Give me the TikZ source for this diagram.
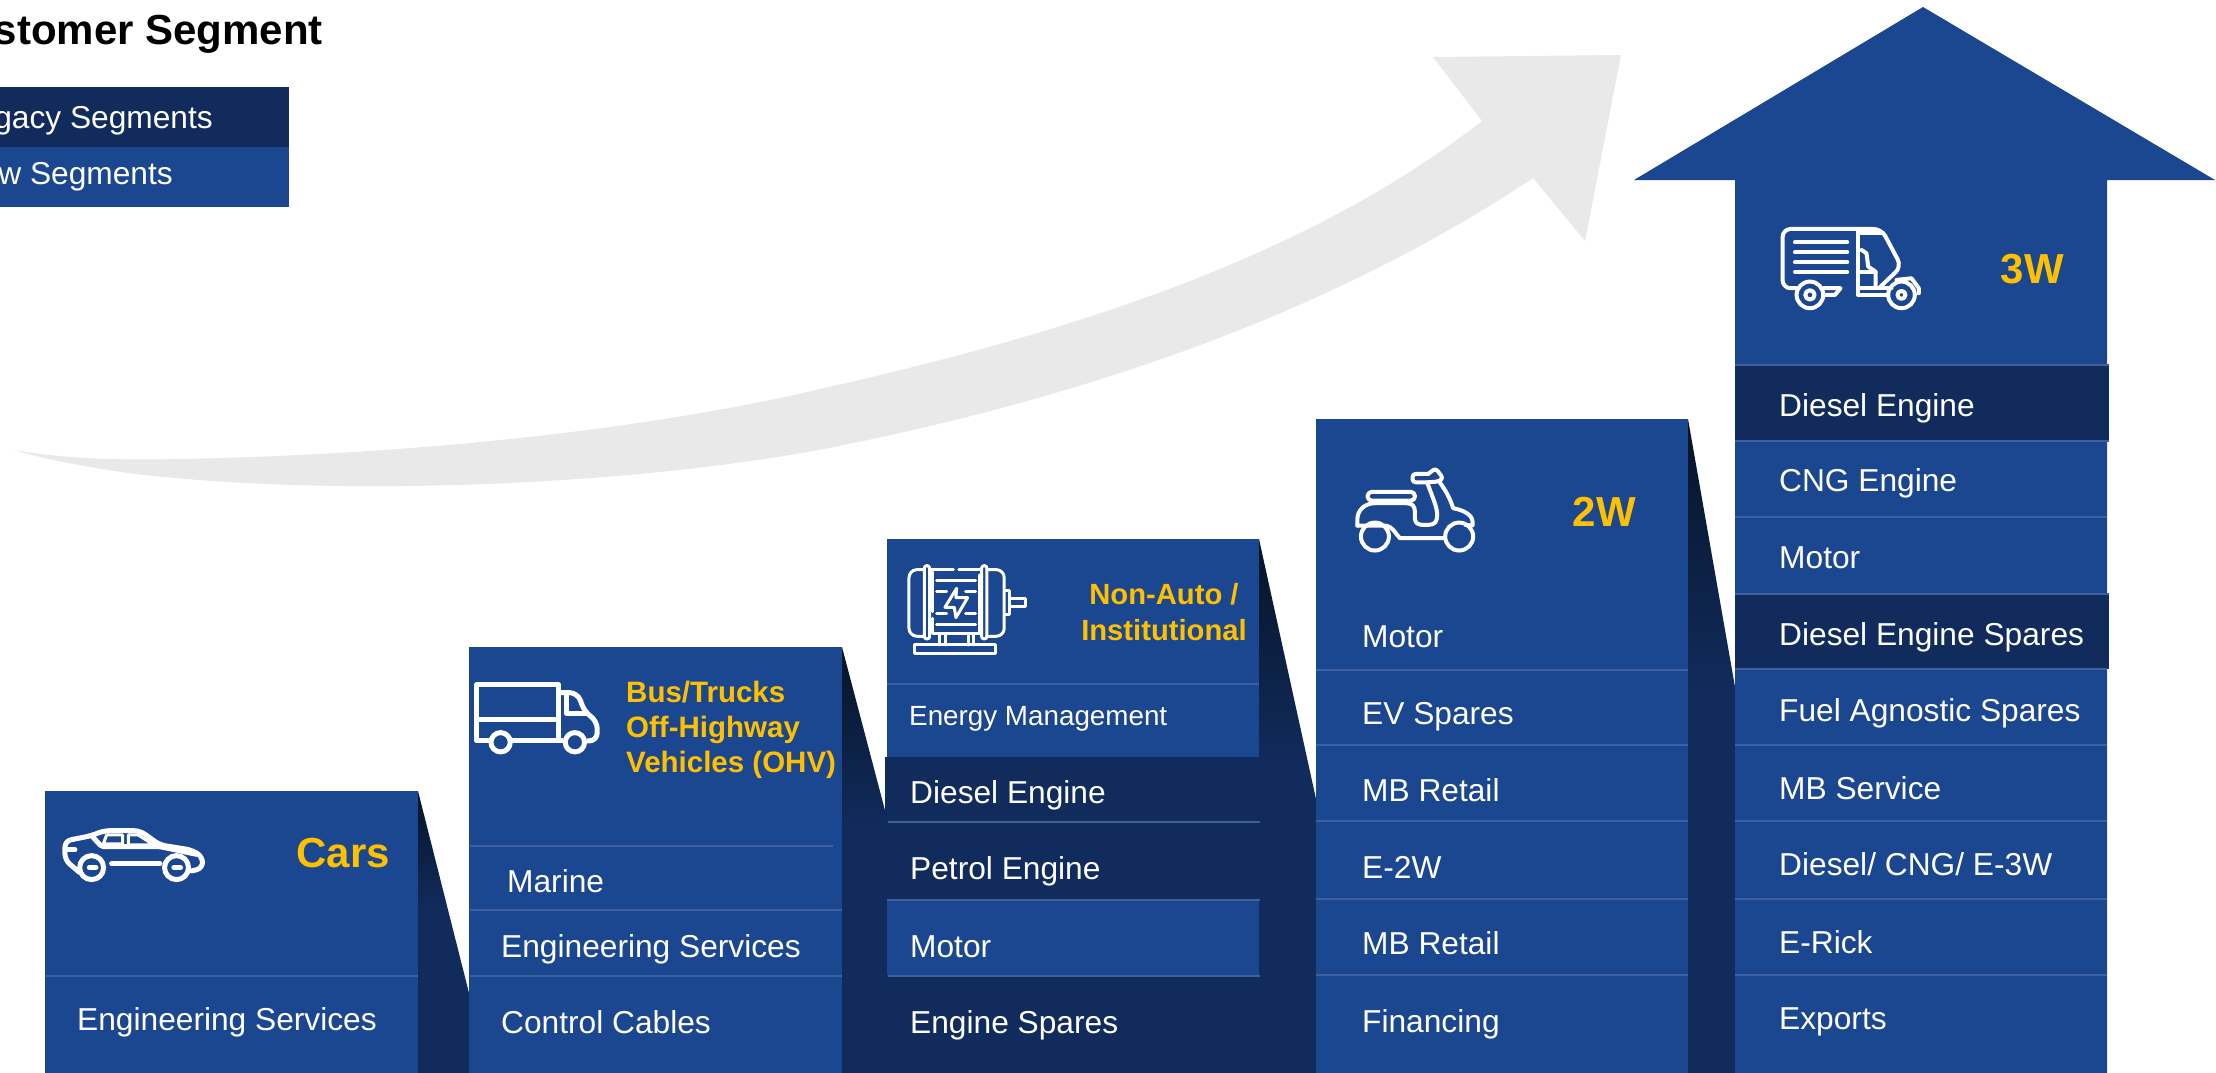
\documentclass[tikz,border=0pt]{standalone}
\usepackage{fontspec}
\setmainfont{Liberation Sans}
\definecolor{segblue}{HTML}{1B4690}
\definecolor{segdark}{HTML}{112B5C}
\definecolor{shadetop}{HTML}{071428}
\definecolor{swoosh}{HTML}{E9E9E9}
\definecolor{divline}{HTML}{3F5F9F}
\definecolor{gold}{HTML}{FFC000}
\pgfdeclareverticalshading{shadowfade}{100bp}{color(0bp)=(segdark); color(54bp)=(segdark); color(75bp)=(shadetop); color(100bp)=(shadetop)}
\tikzset{
    rowtext/.style={text=white,inner sep=0pt,anchor=base west,font=\fontsize{31.7}{36}\selectfont},
    headtext/.style={text=gold,inner sep=0pt,anchor=base east,font=\bfseries\fontsize{42}{46}\selectfont},
    subhead/.style={text=gold,inner sep=0pt,font=\bfseries\fontsize{29.5}{35}\selectfont},
    divider/.style={divline,line width=2pt},
    icon/.style={white,line width=4pt,line join=round,line cap=round},
    shadowpart/.style={shading=shadowfade},
}
\begin{document}
\begin{tikzpicture}[x=1pt,y=-1pt]
    \useasboundingbox (0,0) rectangle (2216,1073);
    \clip (0,0) rectangle (2216,1073);
    % swoosh
    \fill [swoosh] (14,450) .. controls (70,460) and (130,460) .. (179,459)
        .. controls (400,455) and (640,432) .. (829,387)
        .. controls (1080,330) and (1310,255) .. (1482,121)
        -- (1433,57) -- (1621,55) -- (1585,241) -- (1533,178)
        .. controls (1320,320) and (1070,400) .. (829,448)
        .. controls (620,488) and (320,497) .. (128,473)
        .. controls (80,466) and (40,458) .. (14,450) -- cycle;
    % legend
    \fill [segdark] (0,87) rectangle (289,147);
    \fill [segblue] (0,147) rectangle (289,207);
    \node [inner sep=0pt,anchor=base east,font=\bfseries\fontsize{42}{46}\selectfont] (title) at (323,45) {Customer Segment};
    \node [rowtext,anchor=base east] (legacy) at (213,128) {Legacy Segments};
    \node [rowtext,anchor=base east] (new) at (173,184) {New Segments};
    % shadows
    \shade [shadowpart] (418,791) -- (469,993) -- (469,1073) -- (418,1073) -- cycle;
    \shade [shadowpart] (842,647) -- (887,818) -- (887,1073) -- (842,1073) -- cycle;
    \shade [shadowpart] (1259,539) -- (1316,799) -- (1316,1073) -- (1259,1073) -- cycle;
    \shade [shadowpart] (1688,419) -- (1735,687) -- (1735,1073) -- (1688,1073) -- cycle;
    % blocks
    \fill [segblue] (45,791) rectangle (418,1073);
    \fill [segblue] (469,647) rectangle (842,1073);
    \fill [segblue] (887,539) rectangle (1259,757);
    \fill [segdark] (885,757) rectangle (1259,900);
    \fill [segblue] (887,900) rectangle (1259,975);
    \fill [segdark] (887,975) rectangle (1259,1073);
    \fill [segblue] (1316,419) rectangle (1688,1073);
    \fill [segblue] (1923,7) -- (2215,180) -- (2107,180) -- (2107,1073) -- (1735,1073) -- (1735,180) -- (1634,180) -- cycle;
    \fill [segdark] (1735,365) rectangle (2109,441);
    \fill [segdark] (1735,594) rectangle (2109,669);
    % dividers
    \draw [divider] (46,976) -- (418,976);
    \draw [divider] (470,846) -- (833,846);
    \draw [divider] (470,910) -- (842,910);
    \draw [divider] (470,976) -- (842,976);
    \draw [divider] (887,684) -- (1259,684);
    \draw [divider] (888,822) -- (1260,822);
    \draw [divider] (887,900) -- (1260,900);
    \draw [divider] (888,976) -- (1260,976);
    \draw [divider] (1316,670) -- (1688,670);
    \draw [divider] (1316,745) -- (1688,745);
    \draw [divider] (1316,821) -- (1688,821);
    \draw [divider] (1316,899) -- (1688,899);
    \draw [divider] (1316,975) -- (1688,975);
    \draw [divider] (1735,365) -- (2109,365);
    \draw [divider] (1735,441) -- (2109,441);
    \draw [divider] (1735,517) -- (2107,517);
    \draw [divider] (1735,594) -- (2109,594);
    \draw [divider] (1735,669) -- (2107,669);
    \draw [divider] (1735,745) -- (2107,745);
    \draw [divider] (1735,821) -- (2107,821);
    \draw [divider] (1735,899) -- (2107,899);
    \draw [divider] (1735,975) -- (2107,975);
    % car icon
    \begin{scope}[shift={(50,815)},x=0.333pt,y=-0.333pt,icon,line width=5pt]
        \draw [rounded corners=6pt] (88,172) -- (45,135) -- (45,78) -- (125,62) -- (162,47) -- (270,47) -- (330,90) -- (425,105) -- (458,125) -- (458,160) -- (425,168);
        \draw [rounded corners=2pt] (125,62) -- (155,95) -- (330,95) -- (440,118);
        \draw [line width=3pt] (170,60) -- (218,60) -- (218,87) -- (160,87) -- cycle;
        \draw [line width=3pt] (235,60) -- (265,60) -- (312,90) -- (235,90) -- cycle;
        \draw (48,105) -- (75,105);
        \draw (185,146) -- (330,146);
        \draw (118,158) -- (138,158);
        \draw (372,158) -- (392,158);
        \draw (125,158) circle (36);
        \draw (380,158) circle (36);
    \end{scope}
    % truck icon
    \begin{scope}[shift={(465,670)},x=0.333pt,y=-0.333pt,icon,line width=5pt,line cap=butt]
        \draw (75,213) -- (35,213) -- (35,43) -- (280,43) -- (280,213);
        \draw (140,213) -- (295,213);
        \draw (35,150) -- (280,150);
        \draw [rounded corners=8pt] (280,68) -- (338,68) -- (360,128) -- (397,152) -- (397,213) -- (365,213);
        \draw (304,70) -- (304,130) -- (362,130);
        \draw (107,217) circle (29);
        \draw (330,217) circle (29);
    \end{scope}
    % motor icon
    \begin{scope}[shift={(895,555)},x=0.333pt,y=-0.333pt,icon,line width=3pt]
        \draw [rounded corners=8pt] (88,44) -- (42,44) -- (42,244) -- (88,244);
        \draw [rounded corners=8pt] (276,44) -- (328,44) -- (328,244) -- (276,244);
        \draw [rounded corners=2.5pt] (88,32) rectangle (104,252);
        \draw [rounded corners=2.5pt] (260,32) rectangle (276,252);
        \draw (110,45) -- (175,45);
        \draw (192,45) -- (258,45);
        \draw (113,50) -- (113,170);
        \draw (113,190) -- (113,237) -- (255,237) -- (255,60);
        \draw (125,78) -- (242,78);
        \draw (125,208) -- (242,208);
        \draw (125,110) -- (155,110);
        \draw (212,110) -- (242,110);
        \draw (125,175) -- (155,175);
        \draw (212,175) -- (242,175);
        \draw (185,100) -- (150,157) -- (178,157) -- (183,188) -- (218,128) -- (183,128) -- cycle;
        \draw (330,108) -- (345,108) -- (345,178) -- (330,178);
        \draw (345,130) -- (393,130) -- (393,155) -- (345,155);
        \draw (135,240) -- (135,270);
        \draw (152,240) -- (152,270);
        \draw (220,240) -- (220,270);
        \draw (236,240) -- (236,270);
        \draw (60,270) rectangle (302,295);
    \end{scope}
    % scooter icon
    \begin{scope}[shift={(1300,410)},x=0.333pt,y=-0.333pt,icon]
        \draw [rounded corners=4pt] (203,246) rectangle (345,272);
        \draw (172,347) -- (172,330) .. controls (172,300) and (195,280) .. (225,280) -- (320,280) .. controls (338,280) and (345,290) .. (345,305) -- (345,325) .. controls (345,340) and (355,345) .. (370,345) -- (385,345) .. controls (405,345) and (412,335) .. (412,315) .. controls (412,290) and (395,255) .. (382,218);
        \draw [rounded corners=3pt] (385,192) -- (338,192) -- (338,217) -- (385,217);
        \draw [rounded corners=3pt] (385,192) -- (407,175) -- (430,205) -- (415,215) -- (385,217);
        \draw (418,215) .. controls (440,245) and (450,265) .. (460,295) .. controls (490,300) and (518,315) .. (518,335) -- (518,347) -- (497,345);
        \draw (172,347) -- (255,347) .. controls (280,350) and (285,370) .. (300,385) -- (432,385);
        \draw (225,380) circle (42);
        \draw (478,380) circle (42);
    \end{scope}
    % three wheeler icon
    \begin{scope}[shift={(1720,200)},x=0.333pt,y=-0.333pt,icon]
        \draw [rounded corners=8pt] (230,265) -- (188,265) -- (188,87) -- (485,87) -- (545,200) -- (480,262);
        \draw (415,87) -- (415,285) -- (505,285);
        \draw (415,265) -- (515,265);
        \draw (225,127) -- (382,127);
        \draw (225,157) -- (382,157);
        \draw (225,187) -- (382,187);
        \draw (225,216) -- (382,216);
        \draw (310,265) -- (362,265) -- (345,285) -- (315,285);
        \draw (425,150) -- (440,160) -- (445,200) -- (467,215) -- (467,262);
        \draw (415,215) -- (467,215);
        \draw (420,100) -- (490,100);
        \draw (530,240) -- (575,235) -- (597,265) -- (597,280);
        \draw (270,285) circle (40);
        \draw (270,285) circle (14);
        \draw (545,285) circle (40);
        \draw (545,285) circle (12);
    \end{scope}
    % headings
    \node [headtext] (carsHead) at (390,867) {Cars};
    \node [subhead,anchor=west,align=left] (busHead) at (626,730) {Bus/Trucks\\Off-Highway\\Vehicles (OHV)};
    \node [subhead,align=center,font=\bfseries\fontsize{29.2}{36}\selectfont] (nonAutoHead) at (1164,612) {Non-Auto /\\Institutional};
    \node [headtext] (twoHead) at (1636,526) {2W};
    \node [headtext] (threeHead) at (2064,283) {3W};
    % cars rows
    \node [rowtext] (carsEng) at (77,1030) {Engineering Services};
    % bus rows
    \node [rowtext] (busMarine) at (507,892) {Marine};
    \node [rowtext] (busEng) at (501,957) {Engineering Services};
    \node [rowtext] (busCables) at (501,1033) {Control Cables};
    % non-auto rows
    \node [rowtext,font=\fontsize{27.8}{32}\selectfont] (autoEnergy) at (909,725) {Energy Management};
    \node [rowtext] (autoDiesel) at (910,803) {Diesel Engine};
    \node [rowtext] (autoPetrol) at (910,879) {Petrol Engine};
    \node [rowtext] (autoMotor) at (910,957) {Motor};
    \node [rowtext] (autoSpares) at (910,1033) {Engine Spares};
    % 2w rows
    \node [rowtext] (twoMotor) at (1362,647) {Motor};
    \node [rowtext] (twoEv) at (1362,724) {EV Spares};
    \node [rowtext] (twoRetail) at (1362,801) {MB Retail};
    \node [rowtext] (twoElectric) at (1362,878) {E-2W};
    \node [rowtext] (twoRetailB) at (1362,954) {MB Retail};
    \node [rowtext] (twoFinance) at (1362,1032) {Financing};
    % 3w rows
    \node [rowtext] (threeDiesel) at (1779,416) {Diesel Engine};
    \node [rowtext] (threeCng) at (1779,491) {CNG Engine};
    \node [rowtext] (threeMotor) at (1779,568) {Motor};
    \node [rowtext] (threeSpares) at (1779,645) {Diesel Engine Spares};
    \node [rowtext] (threeFuel) at (1779,721) {Fuel Agnostic Spares};
    \node [rowtext] (threeService) at (1779,799) {MB Service};
    \node [rowtext] (threeMixed) at (1779,875) {Diesel/ CNG/ E-3W};
    \node [rowtext] (threeRick) at (1779,953) {E-Rick};
    \node [rowtext] (threeExports) at (1779,1029) {Exports};
\end{tikzpicture}
\end{document}
